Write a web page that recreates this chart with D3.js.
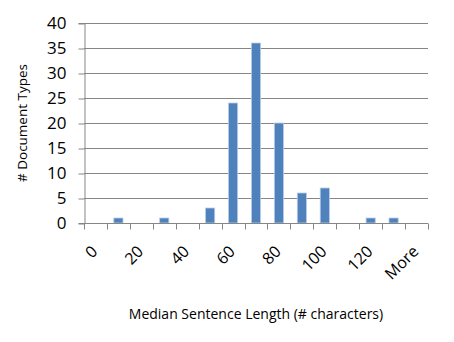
<!DOCTYPE html>
<html>
<head>
<meta charset="utf-8">
<script src="https://cdn.jsdelivr.net/npm/d3@7"></script>
<style>
  body { margin: 0; background: #fff; }
  text { font-family: "Open Sans", sans-serif; fill: #000; }
</style>
</head>
<body>
<div id="wrapper"></div>
<script>
const bins = ["0", "10", "20", "30", "40", "50", "60", "70", "80", "90", "100", "110", "120", "130", "More"];
const counts = [0, 1, 0, 1, 0, 3, 24, 36, 20, 6, 7, 0, 1, 1, 0];
const yTicks = [0, 5, 10, 15, 20, 25, 30, 35, 40];
const shownLabels = ["0", "20", "40", "60", "80", "100", "120", "More"];

const width = 454;
const height = 342;
const margin = { top: 23, right: 26, bottom: 119, left: 84 };

const svg = d3.select("#wrapper")
  .append("svg")
  .attr("width", width)
  .attr("height", height);

const x = d3.scaleBand()
  .domain(bins)
  .range([margin.left, width - margin.right])
  .paddingInner(0.6)
  .paddingOuter(0.3);

// full category slots, for the tick marks and labels
const slot = d3.scaleBand()
  .domain(bins)
  .range([margin.left, width - margin.right]);

const y = d3.scaleLinear()
  .domain([0, 40])
  .range([height - margin.bottom, margin.top]);

// gridlines
svg.append("g")
  .selectAll("line")
  .data(yTicks.filter(d => d > 0))
  .join("line")
  .attr("x1", margin.left)
  .attr("x2", width - margin.right)
  .attr("y1", d => Math.round(y(d)) + 0.5)
  .attr("y2", d => Math.round(y(d)) + 0.5)
  .attr("stroke", "#868686")
  .attr("stroke-width", 1);

// bars
svg.append("g")
  .selectAll("rect")
  .data(bins.map((b, i) => ({ bin: b, value: counts[i] })).filter(d => d.value > 0))
  .join("rect")
  .attr("x", d => x(d.bin))
  .attr("y", d => y(d.value))
  .attr("width", x.bandwidth())
  .attr("height", d => y(0) - y(d.value))
  .attr("fill", "#4f81bd")
  .attr("stroke", "#b9cde5")
  .attr("stroke-width", 0.8);

// y axis
const yAxis = svg.append("g")
  .attr("transform", `translate(${margin.left + 0.5},0)`)
  .call(d3.axisLeft(y).tickValues(yTicks).tickSize(6).tickPadding(12));
yAxis.select(".domain").attr("stroke", "#868686");
yAxis.selectAll(".tick line").attr("stroke", "#868686").attr("transform", "translate(0,0.5)");
yAxis.selectAll(".tick text")
  .style("font-family", "'Open Sans', sans-serif")
  .attr("font-size", 17)
  .attr("fill", "#000");

// x axis
const xAxisY = Math.round(y(0)) + 0.5;
const xAxis = svg.append("g").attr("transform", `translate(0,${xAxisY})`);
xAxis.append("line")
  .attr("x1", margin.left)
  .attr("x2", width - margin.right)
  .attr("stroke", "#868686");
const tickPos = bins.map(b => slot(b)).concat([width - margin.right]);
xAxis.selectAll(".xt")
  .data(tickPos)
  .join("line")
  .attr("class", "xt")
  .attr("x1", d => Math.round(d) + 0.5)
  .attr("x2", d => Math.round(d) + 0.5)
  .attr("y1", 0)
  .attr("y2", 6)
  .attr("stroke", "#868686");
xAxis.selectAll(".xl")
  .data(shownLabels)
  .join("text")
  .attr("class", "xl")
  .attr("text-anchor", "end")
  .attr("font-size", 16)
  .attr("transform", d => `translate(${slot(d) + slot.bandwidth() / 2 + 3},${29}) rotate(-45)`)
  .text(d => d);

// axis titles
svg.append("text")
  .attr("x", 256)
  .attr("y", 319)
  .attr("text-anchor", "middle")
  .attr("font-size", 14)
  .text("Median Sentence Length (# characters)");

svg.append("text")
  .attr("transform", `translate(27,123) rotate(-90)`)
  .attr("text-anchor", "middle")
  .attr("font-size", 13.5)
  .text("# Document Types");
</script>
</body>
</html>
